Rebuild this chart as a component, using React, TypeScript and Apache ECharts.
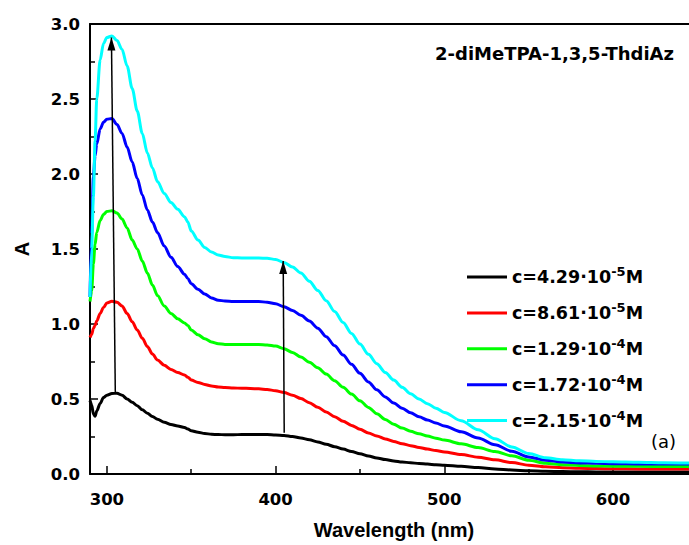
import React, { useEffect, useRef } from "react";
import * as echarts from "echarts";

// Wavelength grid (nm) shared by all spectra
const wavelengths = [
  290, 291, 292, 293, 294, 296, 298, 300, 303, 306, 309, 312, 315, 318, 321, 324, 327, 330,
  334, 338, 342, 346, 348, 350, 354, 358, 362, 366, 370, 375, 380, 385, 390, 395, 400, 405,
  410, 415, 420, 425, 430, 435, 440, 445, 450, 455, 460, 465, 470, 475, 480, 485, 490, 495,
  500, 510, 520, 530, 540, 550, 560, 570, 580, 590, 600, 615, 630, 645,
];

// Absorbance for each concentration
const absC429e5 = [
  0.49, 0.46, 0.4, 0.385, 0.42, 0.47, 0.51, 0.525, 0.537, 0.538, 0.525, 0.5, 0.478, 0.455, 0.428, 0.405, 0.383, 0.365,
  0.345, 0.33, 0.32, 0.31, 0.3, 0.288, 0.278, 0.27, 0.265, 0.263, 0.262, 0.262, 0.263, 0.264, 0.264, 0.263, 0.26, 0.257,
  0.25, 0.24, 0.228, 0.214, 0.198, 0.182, 0.166, 0.15, 0.135, 0.12, 0.107, 0.096, 0.087, 0.08, 0.075, 0.07, 0.066, 0.062,
  0.058, 0.051, 0.043, 0.034, 0.027, 0.021, 0.018, 0.016, 0.015, 0.014, 0.014, 0.013, 0.013, 0.013,
];
const absC861e5 = [
  0.91, 0.93, 0.97, 0.99, 1.02, 1.07, 1.11, 1.14, 1.152, 1.145, 1.12, 1.07, 1.015, 0.96, 0.905, 0.85, 0.8, 0.76,
  0.725, 0.697, 0.677, 0.66, 0.645, 0.627, 0.61, 0.597, 0.587, 0.58, 0.576, 0.573, 0.572, 0.57, 0.568, 0.563, 0.555, 0.543,
  0.525, 0.503, 0.475, 0.445, 0.413, 0.382, 0.352, 0.324, 0.298, 0.274, 0.253, 0.234, 0.217, 0.202, 0.189, 0.177, 0.166, 0.156,
  0.147, 0.13, 0.112, 0.095, 0.076, 0.059, 0.048, 0.042, 0.038, 0.036, 0.035, 0.034, 0.033, 0.033,
];
const absC129e4 = [
  1.15, 1.22, 1.4, 1.53, 1.61, 1.69, 1.73, 1.75, 1.755, 1.74, 1.7, 1.64, 1.56, 1.5, 1.42, 1.34, 1.26, 1.19,
  1.12, 1.07, 1.035, 1.007, 0.99, 0.96, 0.928, 0.902, 0.88, 0.868, 0.864, 0.863, 0.863, 0.863, 0.863, 0.86, 0.853, 0.835,
  0.81, 0.78, 0.745, 0.708, 0.666, 0.622, 0.578, 0.533, 0.488, 0.444, 0.402, 0.364, 0.332, 0.306, 0.285, 0.268, 0.253, 0.239,
  0.226, 0.201, 0.176, 0.15, 0.121, 0.092, 0.072, 0.062, 0.057, 0.054, 0.052, 0.051, 0.05, 0.05,
];
const absC172e4 = [
  1.18, 1.6, 1.98, 2.12, 2.2, 2.3, 2.345, 2.365, 2.37, 2.33, 2.27, 2.18, 2.08, 1.97, 1.86, 1.76, 1.68, 1.61,
  1.52, 1.445, 1.383, 1.332, 1.303, 1.268, 1.232, 1.2, 1.174, 1.159, 1.153, 1.15, 1.15, 1.15, 1.15, 1.145, 1.135, 1.115,
  1.09, 1.058, 1.02, 0.972, 0.915, 0.855, 0.793, 0.731, 0.671, 0.614, 0.561, 0.514, 0.473, 0.438, 0.408, 0.382, 0.36, 0.34,
  0.32, 0.281, 0.24, 0.195, 0.151, 0.114, 0.092, 0.08, 0.074, 0.071, 0.069, 0.067, 0.066, 0.066,
];
const absC215e4 = [
  1.18, 1.5, 1.85, 2.22, 2.5, 2.76, 2.87, 2.91, 2.92, 2.89, 2.83, 2.72, 2.57, 2.42, 2.27, 2.14, 2.04, 1.95,
  1.87, 1.81, 1.765, 1.715, 1.68, 1.62, 1.56, 1.51, 1.48, 1.46, 1.45, 1.442, 1.44, 1.44, 1.44, 1.438, 1.43, 1.41,
  1.38, 1.34, 1.285, 1.224, 1.155, 1.083, 1.01, 0.937, 0.866, 0.798, 0.735, 0.677, 0.626, 0.578, 0.535, 0.5, 0.469, 0.439,
  0.41, 0.355, 0.295, 0.235, 0.18, 0.136, 0.108, 0.095, 0.088, 0.084, 0.081, 0.078, 0.075, 0.073,
];

const spectra = [absC429e5, absC861e5, absC129e4, absC172e4, absC215e4];
const concMantissa = ["4.29", "8.61", "1.29", "1.72", "2.15"];
const concExponent = ["-5", "-5", "-4", "-4", "-4"];
const seriesColors = ["#000000", "#ff0000", "#00ff00", "#0000ff", "#00ffff"];

// Tick positions on the wavelength axis
const xMajorTicks = [300, 400, 500, 600];
const xMinorTicks = [350, 450, 550];

// Arrows showing the growth of both bands with concentration: [start, tip]
const arrowUvBand = [
  [305, 0.54],
  [302.7, 2.91],
];
const arrowVisBand = [
  [405.1, 0.275],
  [404.5, 1.42],
];

const TITLE = "2-diMeTPA-1,3,5-ThdiAz";
const PANEL = "(a)";

const seriesNames = concMantissa.map((m, i) => `c=${m}·10${concExponent[i]}M`);

const tickFont = { fontFamily: "DejaVu Sans", fontWeight: "bold" as const, fontSize: 16.5, color: "#000" };
const nameFont = { fontFamily: "Liberation Sans, Arial", fontWeight: "bold" as const, fontSize: 20, color: "#000" };

function arrowSeries(points: number[][]) {
  return {
    type: "line",
    silent: true,
    z: 5,
    data: [
      { value: points[0], symbol: "none" },
      { value: points[1], symbol: "triangle", symbolSize: [8, 13], symbolOffset: [0, "50%"] },
    ],
    showSymbol: true,
    lineStyle: { color: "#000", width: 1.5 },
    itemStyle: { color: "#000" },
  };
}

export default function App() {
  const ref = useRef<HTMLDivElement>(null);

  useEffect(() => {
    if (!ref.current) return;
    const chart = echarts.init(ref.current, undefined, { renderer: "svg" });
    const xMin = 290;
    const xMax = 645;

    chart.setOption({
      animation: false,
      backgroundColor: "#fff",
      grid: { left: 90, right: 0, top: 24, bottom: 67, containLabel: false },
      xAxis: [
        {
          type: "value",
          min: xMin,
          max: xMax,
          position: "bottom",
          name: "Wavelength (nm)",
          nameLocation: "middle",
          nameGap: 46,
          nameTextStyle: { ...nameFont, padding: [0, 0, 0, 9] },
          axisLine: { show: true, lineStyle: { color: "#000", width: 2 } },
          axisTick: { show: true, inside: true, length: 8, customValues: xMajorTicks, lineStyle: { color: "#000", width: 1.5 } },
          axisLabel: { show: true, customValues: xMajorTicks, margin: 17, ...tickFont },
          splitLine: { show: false },
        },
        {
          type: "value",
          min: xMin,
          max: xMax,
          position: "bottom",
          axisLine: { show: false },
          axisTick: { show: true, inside: true, length: 5, customValues: xMinorTicks, lineStyle: { color: "#000", width: 1.5 } },
          axisLabel: { show: false },
          splitLine: { show: false },
        },
        {
          type: "value",
          min: xMin,
          max: xMax,
          position: "top",
          axisLine: { show: true, lineStyle: { color: "#000", width: 2 } },
          axisTick: { show: false },
          axisLabel: { show: false },
          splitLine: { show: false },
        },
      ],
      yAxis: {
        type: "value",
        min: 0,
        max: 3,
        interval: 0.5,
        name: "A",
        nameLocation: "middle",
        nameGap: 58,
        nameRotate: 90,
        nameTextStyle: nameFont,
        axisLine: { show: true, lineStyle: { color: "#000", width: 2 } },
        axisTick: { show: true, inside: true, length: 8, lineStyle: { color: "#000", width: 1.5 } },
        minorTick: { show: true, splitNumber: 2, length: 5, lineStyle: { color: "#000", width: 1.5 } },
        axisLabel: { margin: 10, formatter: (v: number) => v.toFixed(1), ...tickFont },
        splitLine: { show: false },
      },
      legend: {
        orient: "vertical",
        left: 467,
        top: 265,
        padding: 0,
        icon: "rect",
        itemWidth: 40,
        itemHeight: 3,
        itemGap: 14.9,
        data: seriesNames,
        formatter: (name: string) => {
          const i = seriesNames.indexOf(name);
          return `{b|c=${concMantissa[i]}·10}{s|${concExponent[i]}}{b|M}`;
        },
        textStyle: {
          rich: {
            b: { fontFamily: "DejaVu Sans", fontWeight: "bold", fontSize: 17.5, lineHeight: 24, color: "#000" },
            s: { fontFamily: "DejaVu Sans", fontWeight: "bold", fontSize: 13, lineHeight: 13, verticalAlign: "top", color: "#000" },
          },
        },
      },
      graphic: [
        {
          type: "text",
          x: 435,
          y: 53,
          style: { text: TITLE, font: 'bold 18px "DejaVu Sans"', fill: "#000", verticalAlign: "middle" },
        },
        {
          type: "text",
          x: 651,
          y: 441,
          style: { text: PANEL, font: '18px "DejaVu Sans"', fill: "#000", verticalAlign: "middle" },
        },
      ],
      series: [
        ...spectra.map((vals, i) => ({
          name: seriesNames[i],
          type: "line",
          xAxisIndex: 0,
          symbol: "none",
          smooth: 0.3,
          smoothMonotone: "x",
          data: wavelengths.map((w, k) => [w, vals[k]]),
          lineStyle: { color: seriesColors[i], width: 3 },
          itemStyle: { color: seriesColors[i] },
          z: 2 + i * 0.01,
        })),
        arrowSeries(arrowUvBand),
        arrowSeries(arrowVisBand),
      ],
    });

    return () => chart.dispose();
  }, []);

  return (
    <div
      ref={ref}
      style={{ position: "fixed", left: 0, top: 0, width: 689, height: 545, background: "#fff" }}
    />
  );
}
